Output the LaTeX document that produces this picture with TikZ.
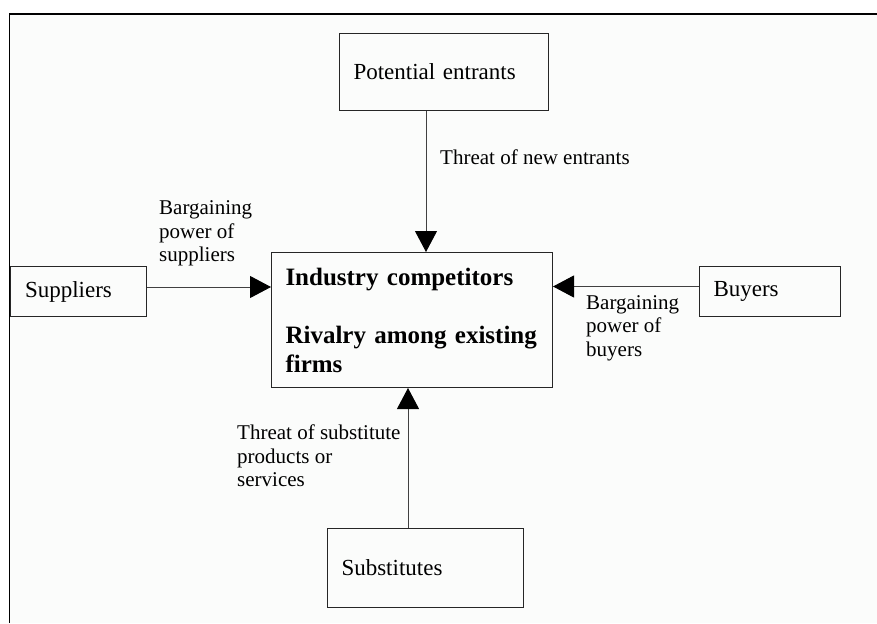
\documentclass[tikz,border=0pt]{standalone}
\usepackage{fontspec}
\setmainfont{Liberation Serif}
\usetikzlibrary{arrows.meta}
\definecolor{framebg}{RGB}{251,252,251}
\begin{document}
\begin{tikzpicture}[x=1pt,y=-1pt,
  box/.style={draw=black!85, line width=1pt, anchor=north west, align=left,
    inner xsep=14pt, inner ysep=0pt, font=\fontsize{23}{27}\selectfont},
  lbl/.style={inner sep=0pt, anchor=west, align=left,
    font=\fontsize{21}{23.5}\selectfont},
  force/.style={draw=black!75, line width=1pt,
    -{Triangle[width=22pt,length=21pt,color=black,fill=black]}}]
\useasboundingbox (0,0) rectangle (877,623);

% page frame
\fill[framebg] (9.5,14) rectangle (877,623);
\draw[line width=1.3pt] (877,14) -- (9.5,14) -- (9.5,623);

% the five forces
\node[box, minimum width=209pt, minimum height=77pt, text width=181pt]
  (pe) at (339,33) {Potential entrants};
\node[box, minimum width=281pt, minimum height=135pt, text width=253pt,
  font=\bfseries\fontsize{25}{28.5}\selectfont]
  (ind) at (271,252) {Industry competitors\\[30pt]\mbox{Rivalry among existing}\\firms};
\node[box, minimum width=136pt, minimum height=50pt, text width=107pt,
  inner xsep=14.5pt] (sup) at (10,266) {Suppliers};
\node[box, minimum width=141pt, minimum height=50pt, text width=113pt]
  (buy) at (699,266) {Buyers};
\node[box, minimum width=196pt, minimum height=79pt, text width=168pt]
  (sub) at (327,528) {Substitutes};

% connector end points
\coordinate (peout) at ([xshift=87pt]pe.south west);
\coordinate (supout) at ([yshift=4.5pt]sup.east);
\coordinate (buyout) at ([yshift=5pt]buy.west);
\coordinate (subout) at ([xshift=81pt]sub.north west);

\draw[force] (peout) -- (peout |- ind.north);
\draw[force] (supout) -- (supout -| ind.west);
\draw[force] (buyout) -- (buyout -| ind.east);
\draw[force] (subout) -- (subout |- ind.south);

% connector labels
\node[lbl] (tne) at (440,157) {Threat of new entrants};
\node[lbl] (bps) at (159,233.5) {Bargaining\\power of\\suppliers};
\node[lbl] (bpb) at (586,328) {Bargaining\\power of\\buyers};
\node[lbl] (tsp) at (237,456) {Threat of substitute\\products or\\services};
\end{tikzpicture}
\end{document}
